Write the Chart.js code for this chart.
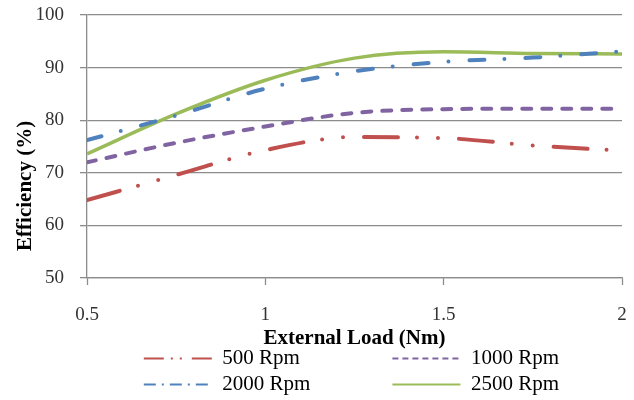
<!DOCTYPE html>
<html>
<head>
<meta charset="utf-8">
<script src="https://cdn.jsdelivr.net/npm/chart.js@4.4.1/dist/chart.umd.min.js"></script>
<style>
  html, body { margin: 0; padding: 0; background: #ffffff; }
  #wrap { width: 634px; height: 400px; position: relative; }
</style>
</head>
<body>
<div id="wrap"><canvas id="c" width="634" height="400"></canvas></div>
<script>
const loads = [0.5, 0.75, 1.0, 1.25, 1.5, 1.75, 2.0];
const eff500 = [64.8, 69.6, 74.3, 76.8, 76.6, 75.2, 74.2];
const eff1000 = [72.0, 75.7, 78.8, 81.4, 82.1, 82.2, 82.2];
const eff2000 = [76.2, 80.9, 86.0, 89.3, 91.1, 91.9, 93.1];
const eff2500 = [73.6, 81.2, 87.6, 91.8, 93.0, 92.7, 92.6];
const seriesNames = ['500 Rpm', '1000 Rpm', '2000 Rpm', '2500 Rpm'];
const xTicks = [0.5, 1, 1.5, 2];
const yTicks = [50, 60, 70, 80, 90, 100];

const toPts = arr => loads.map((x, i) => ({ x: x, y: arr[i] }));
const serif = "'Liberation Serif', 'Times New Roman', serif";
const legendFontSize = 21;

const datasets = [
  { label: seriesNames[0], data: toPts(eff500), borderColor: '#C0504D', borderWidth: 4,
    borderDash: [34, 19, 0, 21, 0, 21], borderCapStyle: 'round' },
  { label: seriesNames[1], data: toPts(eff1000), borderColor: '#8064A2', borderWidth: 4,
    borderDash: [9, 11], borderCapStyle: 'round' },
  { label: seriesNames[2], data: toPts(eff2000), borderColor: '#4F81BD', borderWidth: 4,
    borderDash: [15, 20, 0, 21], borderCapStyle: 'round' },
  { label: seriesNames[3], data: toPts(eff2500), borderColor: '#9BBB59', borderWidth: 3.5,
    borderCapStyle: 'butt' }
].map(d => Object.assign(d, { fill: false, pointRadius: 0, tension: 0.4,
  cubicInterpolationMode: 'monotone', backgroundColor: d.borderColor }));

const legendDash = [[20, 7, 2, 7, 2, 10], [6, 4], [12, 6, 2, 6], []];
const legendTextWidth = [164.5, 157.5];

new Chart(document.getElementById('c'), {
  type: 'line',
  data: { datasets: datasets },
  options: {
    responsive: false,
    animation: false,
    devicePixelRatio: 1,
    layout: { padding: { top: 0, right: 0, left: 4, bottom: -5 } },
    plugins: {
      tooltip: { enabled: false },
      legend: {
        position: 'bottom',
        align: 'end',
        labels: {
          usePointStyle: true,
          pointStyle: 'line',
          pointStyleWidth: 68,
          boxWidth: 68,
          padding: 5,
          color: '#000',
          font: { family: serif, size: legendFontSize },
          generateLabels: function (chart) {
            const items = Chart.defaults.plugins.legend.labels.generateLabels(chart);
            const ctx = chart.ctx;
            ctx.save();
            ctx.font = legendFontSize + "px " + serif;
            items.forEach((it, i) => {
              const target = legendTextWidth[i % 2];
              let t = it.text;
              while (ctx.measureText(t + '\u00A0').width <= target) t += '\u00A0';
              while (ctx.measureText(t).width < target - 0.8) t += '\u200A';
              it.text = t;
              it.lineWidth = 2.2;
              it.lineDash = legendDash[i];
              it.lineCap = 'butt';
              it.pointStyle = 'line';
            });
            ctx.restore();
            return items;
          }
        }
      }
    },
    scales: {
      x: {
        type: 'linear',
        min: 0.5, max: 2,
        afterBuildTicks: s => { s.ticks = xTicks.map(v => ({ value: v })); },
        afterFit: s => { s.height = 65; s.paddingRight = 12; s.paddingLeft = 0; },
        border: { color: '#8c8c8c', width: 1.3 },
        grid: { drawOnChartArea: false, drawTicks: true, tickLength: 7, color: '#8c8c8c', tickWidth: 1.3 },
        ticks: { color: '#333', font: { family: serif, size: 19 }, padding: 19, maxRotation: 0,
          autoSkip: false, callback: v => String(v) },
        title: { display: true, text: 'External Load (Nm)', color: '#000',
          font: { family: serif, size: 21, weight: 'bold' }, padding: { top: 0, bottom: -8 } }
      },
      y: {
        min: 50, max: 100,
        afterBuildTicks: s => { s.ticks = yTicks.map(v => ({ value: v })); },
        afterFit: s => { s.width = 83; s.paddingTop = 15; s.paddingBottom = 0; },
        border: { color: '#8c8c8c', width: 1.3 },
        grid: { color: '#8c8c8c', lineWidth: 1.3, tickLength: 7 },
        ticks: { color: '#333', font: { family: serif, size: 19 }, padding: 16, autoSkip: false,
          callback: v => String(v) },
        title: { display: true, text: 'Efficiency (%)' + '\u00A0'.repeat(15), color: '#000',
          font: { family: serif, size: 21, weight: 'bold' }, padding: { top: 9, bottom: 0 } }
      }
    }
  }
});
</script>
</body>
</html>
